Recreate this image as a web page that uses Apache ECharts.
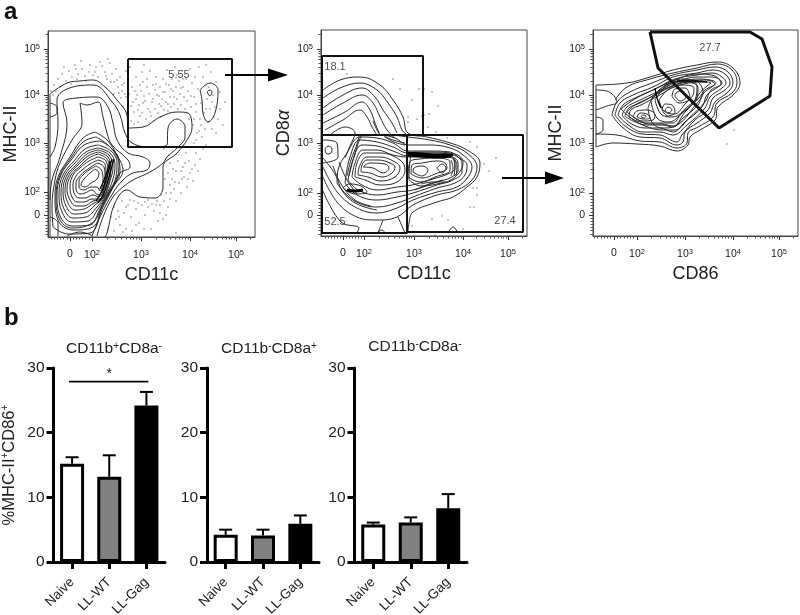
<!DOCTYPE html>
<html>
<head>
<meta charset="utf-8">
<style>html,body{margin:0;padding:0;background:#fff}#chart{width:800px;height:615px}</style>
<script src="https://cdn.jsdelivr.net/npm/echarts@6/dist/echarts.min.js"></script>
</head>
<body>
<div id="chart"></div>
<script>
// flow panels are in display channels (biexponential axis), 1 channel is about 1 px
var tickLabels = ['0', '10{s|2}', '10{s|3}', '10{s|4}', '10{s|5}']
var xTicks1 = [22, 44, 93, 142, 188]
var yTicks1 = [22, 45, 94, 142, 188]
var xTicks2 = [22, 43, 93, 142, 187]
var yTicks2 = [21, 43, 93, 141, 187]
var xTicks3 = [21, 44, 92, 140, 186]
var yTicks3 = [21, 43, 93, 141, 187]

var gate1 = [[80, 178], [184, 178], [184, 90], [80, 90], [80, 178]]
var gates2 = [
  [[1, 180], [102, 180], [102, 101], [1, 101], [1, 180]],
  [[1, 101], [86, 101], [86, 3], [1, 3], [1, 101]],
  [[86, 101], [202, 101], [202, 4], [86, 4], [86, 101]]
]
var gate3 = [[57, 204], [65, 168], [126, 108], [177, 140], [179, 169], [169, 197], [157, 204], [57, 204]]

var labels1 = [[131, 162, '5.55']]
var labels2 = [[14, 169, '18.1'], [14, 14, '52.5'], [184, 15, '27.4']]
var labels3 = [[117, 188, '27.7']]

var openLines1 = [
  [[2, 143], [19, 154], [32, 156], [45, 157], [57, 150], [69, 137], [79, 122], [80, 109], [95, 110], [112, 120], [129, 125], [140, 124], [144, 109], [139, 97], [129, 84], [115, 70], [115, 50], [107, 39], [92, 40], [79, 47], [67, 34], [59, 4], [57, 0]],
  [[2, 80], [7, 90], [10, 114], [9, 137], [19, 148], [45, 152], [65, 134], [72, 122], [77, 104], [84, 94], [102, 90], [119, 92], [120, 109], [129, 118], [137, 110], [137, 100], [129, 89], [119, 80], [115, 74], [102, 65], [85, 57], [75, 50], [65, 40], [55, 20], [49, 1]],
  [[2, 37], [4, 57], [12, 80], [19, 114], [15, 134], [29, 139], [49, 140], [60, 130], [65, 114], [69, 97], [80, 84], [95, 80], [102, 74], [99, 67], [85, 64], [75, 57], [65, 44], [52, 20], [44, 1]],
  [[2, 134], [9, 130], [9, 124], [2, 120]],
  [[2, 20], [10, 14], [10, 1]],
  [[19, 1], [32, 5], [45, 1]],
  [[2, 143], [2, 0]]
]
var rings1 = [
  [[5, 10], [4, 30], [7, 57], [12, 74], [24, 97], [34, 114], [32, 134], [39, 132], [50, 135], [55, 120], [59, 104], [64, 92], [80, 77], [82, 70], [72, 64], [65, 50], [55, 30], [42, 4], [20, 3]],
  [[47, 105], [59, 97], [70, 80], [75, 67], [65, 50], [55, 34], [45, 10], [25, 7], [10, 17], [7, 40], [10, 60], [22, 80], [35, 99]],
  [[48, 100], [60, 92], [70, 78], [72, 66], [64, 48], [54, 30], [44, 14], [24, 9], [11, 19], [8, 40], [12, 62], [23, 79], [35, 95]],
  [[52, 96], [62, 90], [71, 76], [70, 62], [62, 46], [52, 28], [42, 12], [24, 11], [12, 21], [9, 42], [13, 62], [24, 78], [36, 92]],
  [[50, 92], [63, 86], [69, 74], [68, 60], [60, 44], [50, 28], [40, 16], [24, 15], [14, 25], [11, 44], [15, 62], [26, 76], [37, 88]],
  [[50, 89], [62, 84], [67, 72], [65, 58], [58, 42], [49, 30], [38, 20], [25, 19], [16, 28], [13, 45], [17, 62], [27, 74], [38, 85]],
  [[50, 87], [61, 82], [65, 70], [62, 56], [56, 40], [47, 32], [37, 24], [26, 23], [18, 31], [15, 46], [19, 62], [28, 72], [39, 83]],
  [[50, 85], [60, 80], [63, 68], [60, 52], [54, 38], [46, 34], [36, 28], [27, 27], [20, 34], [17, 47], [21, 62], [29, 71], [40, 81]],
  [[50, 83], [59, 78], [62, 66], [58, 50], [53, 38], [45, 36], [36, 31], [28, 31], [22, 37], [19, 48], [23, 62], [31, 70], [41, 79]],
  [[50, 80], [58, 76], [60, 64], [56, 48], [52, 38], [44, 38], [36, 35], [29, 35], [24, 40], [22, 50], [25, 62], [32, 69], [41, 76]],
  [[50, 77], [57, 73], [58, 62], [55, 46], [51, 40], [45, 42], [37, 39], [31, 39], [26, 44], [25, 52], [28, 61], [34, 67], [42, 73]],
  [[49, 74], [56, 70], [57, 60], [54, 46], [50, 42], [44, 47], [37, 44], [32, 43], [28, 48], [28, 54], [31, 60], [36, 65], [43, 70]],
  [[48, 71], [54, 66], [55, 56], [52, 46], [49, 50], [43, 50], [36, 47], [31, 50], [31, 56], [35, 62], [41, 67]],
  [[47, 68], [51, 64], [49, 58], [43, 54], [37, 50], [33, 52], [36, 58], [42, 64]],
  [[152, 147], [162, 154], [170, 147], [167, 124], [160, 115], [155, 124], [154, 137]],
  [[159, 145], [162, 147], [164, 145], [162, 141]]
]
// spots where the contours run together and print almost solid
var bands1 = [
  [[66, 78], [62, 64], [56, 44], [50, 34]],
  [[64, 78], [60, 64], [54, 46], [48, 36]],
  [[62, 76], [58, 62], [52, 48]]
]
var dots1 = [
  [3, 146], [6, 152], [10, 158], [14, 163], [18, 156], [21, 166], [24, 160], [27, 172], [30, 163], [34, 168], [37, 161], [41, 165], [45, 162], [48, 170], [50, 160], [54, 171], [57, 165], [59, 158], [62, 174], [64, 163], [66, 155], [68, 168], [70, 150], [72, 160], [74, 146], [76, 154], [78, 166], [78, 140], [73, 139], [60, 178], [42, 172], [33, 176], [12, 150], [8, 146], [66, 143], [75, 131],
  [82, 170], [84, 150], [85, 135], [86, 125], [88, 160], [89, 142], [90, 115], [91, 132], [93, 146], [94, 124], [95, 155], [96, 172], [97, 136], [98, 118], [99, 150], [100, 128], [101, 143], [102, 166], [103, 121], [104, 135], [105, 152], [106, 116], [107, 128], [108, 160], [109, 142], [110, 124], [111, 133], [112, 150], [113, 120], [114, 138], [115, 158], [116, 127], [117, 145], [118, 135], [119, 167], [120, 126], [121, 152], [122, 140], [123, 130], [124, 158], [125, 146], [126, 133], [127, 170], [128, 150], [129, 138], [130, 128], [131, 156], [132, 143], [133, 132], [134, 166], [135, 150], [136, 140], [137, 128], [138, 158], [139, 136], [140, 146], [141, 118], [142, 168], [143, 130], [144, 154], [145, 112], [146, 140], [147, 160], [148, 125], [149, 104], [150, 148], [151, 170], [152, 118], [153, 134], [154, 100], [155, 160], [156, 124], [157, 108], [158, 172], [159, 138], [160, 115], [161, 150], [162, 128], [163, 165], [164, 108], [165, 142], [166, 120], [167, 130], [168, 155], [170, 118], [172, 128], [175, 112], [177, 135], [168, 104],
  [116, 88], [120, 64], [122, 74], [124, 58], [126, 48], [128, 66], [130, 76], [131, 54], [133, 44], [135, 70], [136, 60], [138, 84], [139, 50], [141, 76], [142, 64], [143, 90], [145, 56], [147, 72], [148, 84], [150, 66], [152, 78], [118, 44], [122, 52], [112, 32], [116, 36], [120, 30], [128, 36], [146, 94], [155, 88], [158, 92],
  [66, 30], [68, 18], [70, 26], [72, 12], [74, 36], [76, 24], [78, 8], [80, 32], [83, 20], [86, 36], [88, 28], [91, 14], [94, 32], [97, 22], [100, 30], [103, 8], [106, 26], [108, 32], [112, 24], [115, 18], [60, 8], [63, 20], [84, 6], [66, 6], [118, 22], [122, 38], [128, 4], [90, 34], [100, 37],
  [83, 131], [87, 146], [92, 121], [96, 141], [83, 116], [90, 127], [95, 134], [102, 125], [88, 138], [107, 147], [113, 131], [99, 158], [92, 152], [86, 113], [81, 143], [105, 138], [111, 141], [118, 153], [123, 148], [129, 162], [135, 158], [126, 140], [133, 149], [120, 133], [115, 145], [94, 165], [108, 153], [143, 141], [148, 133], [146, 118], [151, 106], [172, 145], [164, 135], [158, 128], [153, 112], [148, 97],
  [5, 142], [16, 170], [23, 153], [29, 158], [38, 156], [47, 165], [52, 175], [58, 161], [69, 157], [74, 152], [80, 126], [77, 143], [28, 168], [63, 155], [71, 144],
  [121, 82], [125, 68], [133, 66], [137, 74], [127, 55], [140, 58], [144, 68], [134, 58], [123, 44], [117, 58], [113, 42], [109, 36], [104, 33], [97, 35], [82, 37], [78, 30], [71, 20], [75, 5], [88, 12], [96, 8], [110, 16]
]

var openLines2 = [
  [[2, 146], [19, 156], [39, 159], [59, 151], [72, 136], [82, 119], [87, 103], [106, 99], [126, 94], [146, 86], [159, 73], [156, 59], [146, 49], [132, 39], [116, 34], [92, 24], [88, 13], [87, 3]],
  [[2, 138], [19, 148], [39, 153], [56, 146], [67, 133], [76, 119], [81, 106], [86, 101]],
  [[2, 128], [22, 141], [41, 148], [54, 139], [62, 126], [71, 113], [76, 103]],
  [[2, 121], [22, 133], [41, 141], [52, 133], [59, 119], [66, 106], [74, 98]],
  [[2, 113], [24, 124], [41, 134], [49, 126], [54, 113], [59, 101]],
  [[4, 106], [22, 116], [39, 126], [46, 119], [51, 109], [56, 101]],
  [[9, 101], [24, 109], [34, 103], [29, 90], [24, 78]],
  [[2, 59], [16, 34], [36, 19], [56, 16], [76, 19], [92, 31], [116, 41], [136, 46], [151, 56], [156, 69], [146, 83], [129, 91], [109, 96], [87, 99], [72, 101]],
  [[2, 69], [17, 43], [36, 28], [56, 23], [76, 28], [92, 36], [116, 44], [136, 49], [147, 59], [151, 69], [142, 81], [129, 88], [109, 91], [87, 91], [74, 98], [59, 101], [39, 101]],
  [[2, 96], [16, 93], [17, 79], [2, 73]],
  [[127, 3], [132, 9], [137, 3]],
  [[56, 3], [61, 6], [64, 3]],
  [[62, 16], [57, 3]],
  [[77, 19], [84, 3]],
  [[2, 45], [20, 14], [38, 8], [36, 3]],
  [[2, 78], [14, 62], [22, 44], [36, 32], [56, 26]],
  [[12, 70], [20, 52], [34, 36], [50, 30]],
  [[18, 74], [26, 56], [36, 42]],
  [[26, 60], [30, 76], [36, 92], [38, 100]],
  [[28, 60], [32, 76], [37, 92], [40, 100]],
  [[133, 78], [136, 70], [135, 60]],
  [[132, 78], [134, 70], [133, 60]],
  [[130, 76], [132, 68], [130, 60]],
  [[52, 115], [56, 106], [60, 100]],
  [[63, 100], [72, 96], [84, 93]],
  [[64, 99], [73, 94], [84, 91]],
  [[100, 52], [112, 54], [126, 54]],
  [[94, 46], [108, 52], [122, 56]]
]
var rings2 = [
  [[16, 53], [32, 36], [56, 29], [76, 33], [92, 39], [116, 48], [134, 53], [144, 61], [146, 71], [137, 79], [129, 84], [109, 85], [87, 85], [72, 93], [56, 98], [39, 99], [26, 83], [17, 66]],
  [[24, 53], [36, 41], [56, 36], [76, 39], [92, 43], [116, 51], [132, 56], [141, 64], [141, 73], [132, 81], [109, 83], [87, 83], [72, 89], [56, 94], [39, 96], [29, 79]],
  [[27, 56], [37, 46], [56, 41], [76, 44], [92, 46], [116, 54], [131, 59], [137, 66], [137, 73], [131, 79], [109, 81], [87, 80], [72, 85], [56, 90], [41, 91], [32, 76]],
  [[31, 59], [41, 51], [56, 46], [76, 49], [91, 51], [112, 57], [129, 63], [134, 68], [134, 74], [127, 79], [109, 79], [87, 79], [72, 81], [56, 86], [42, 86], [34, 73]],
  [[34, 59], [44, 56], [59, 51], [76, 54], [84, 66], [79, 76], [59, 83], [44, 83], [36, 73]],
  [[37, 61], [47, 59], [59, 55], [74, 59], [79, 68], [74, 74], [59, 79], [46, 79], [39, 71]],
  [[40, 64], [49, 63], [61, 59], [71, 63], [74, 69], [69, 73], [57, 76], [46, 76], [41, 71]],
  [[42, 69], [52, 68], [62, 63], [68, 68], [64, 72], [49, 73]],
  [[87, 59], [99, 54], [114, 59], [129, 66], [129, 74], [116, 78], [99, 77], [89, 74]],
  [[90, 62], [101, 58], [114, 62], [126, 68], [124, 73], [116, 75], [101, 73], [91, 71]],
  [[92, 64], [101, 60], [107, 66], [101, 70], [93, 68]],
  [[116, 68], [121, 63], [125, 68], [121, 72]],
  [[4, 87], [7, 90], [11, 87], [10, 83], [6, 82]],
  [[22, 48], [34, 42], [46, 44], [40, 50], [28, 52]],
  [[88, 56], [100, 50], [116, 52], [130, 56], [140, 66], [142, 74], [134, 82], [110, 84], [92, 84]]
]
var bands2 = [
  [[86, 81], [100, 80], [118, 79], [130, 80]],
  [[86, 83], [100, 82], [118, 81], [132, 81]],
  [[26, 46], [34, 45], [42, 46]]
]
var dots2 = [[26, 162], [72, 157], [79, 147], [98, 147], [103, 147], [111, 144], [91, 136], [117, 130], [108, 122], [101, 120], [103, 121], [87, 119], [96, 117], [87, 114], [107, 109], [115, 104], [126, 98], [149, 94], [156, 89], [175, 78], [163, 72], [168, 65], [152, 48], [156, 41], [149, 29], [153, 29], [156, 48], [111, 17], [121, 20], [127, 16], [91, 10], [114, 1], [142, 7]]

var openLines3 = [
  [[3, 151], [34, 153], [57, 159], [80, 166], [104, 171], [124, 174], [140, 168], [147, 153], [140, 141], [125, 129], [122, 116], [107, 106], [97, 99], [95, 91], [84, 85], [67, 90], [44, 92], [20, 93], [3, 89], [3, 151]],
  [[3, 146], [14, 145], [24, 134], [14, 130], [3, 126]],
  [[3, 119], [10, 116], [10, 106], [3, 102]],
  [[3, 102], [24, 101], [47, 95], [67, 94], [84, 88], [94, 93], [95, 103], [105, 109], [120, 119], [124, 133], [139, 143], [144, 153], [139, 166], [124, 172], [104, 168], [80, 163], [57, 157], [34, 149], [22, 136]]
]
var rings3 = [
  [[19, 121], [29, 109], [47, 99], [67, 98], [84, 91], [90, 94], [92, 104], [104, 113], [117, 123], [122, 134], [135, 144], [140, 153], [135, 164], [122, 169], [104, 166], [80, 161], [59, 153], [37, 144], [24, 134]],
  [[22, 121], [32, 110], [49, 102], [67, 101], [84, 94], [89, 101], [102, 116], [115, 126], [120, 138], [132, 146], [137, 153], [132, 162], [120, 166], [104, 163], [80, 159], [60, 149], [40, 141], [27, 133]],
  [[25, 121], [34, 112], [50, 104], [67, 104], [80, 101], [94, 111], [112, 128], [117, 139], [129, 148], [133, 153], [129, 159], [119, 163], [104, 161], [82, 157], [62, 147], [42, 138], [30, 131]],
  [[29, 121], [37, 113], [52, 108], [67, 108], [80, 104], [92, 114], [109, 129], [114, 141], [125, 149], [129, 153], [124, 158], [115, 159], [104, 159], [84, 154], [64, 144], [45, 135], [34, 129]],
  [[32, 120], [40, 115], [54, 111], [69, 111], [80, 109], [90, 118], [105, 131], [110, 142], [120, 150], [123, 153], [117, 156], [104, 157], [84, 152], [64, 142], [47, 133], [36, 128]],
  [[36, 119], [44, 115], [55, 113], [68, 113], [80, 113], [88, 122], [102, 134], [106, 142], [114, 150], [118, 153], [108, 154], [84, 150], [65, 140], [48, 131], [38, 126]],
  [[28, 127], [38, 118], [52, 110], [70, 106], [82, 106], [96, 118], [112, 134], [118, 146], [128, 152], [122, 160], [104, 162], [82, 156], [60, 146], [40, 136]],
  [[34, 124], [44, 117], [56, 112], [68, 112], [80, 110], [92, 124], [106, 138], [112, 146], [122, 152], [112, 156], [94, 154], [74, 148], [56, 138], [42, 131]],
  [[55, 128], [60, 112], [72, 108], [86, 112], [100, 128], [110, 144], [100, 156], [80, 154], [62, 142]],
  [[58, 135], [64, 118], [76, 114], [90, 124], [102, 136], [104, 150], [90, 157], [72, 150]],
  [[40, 119], [49, 115], [60, 116], [62, 121], [54, 126], [44, 125]],
  [[44, 119], [50, 117], [57, 118], [54, 122], [47, 123]],
  [[48, 119], [51, 118], [53, 120], [50, 121]],
  [[69, 126], [75, 120], [82, 124], [79, 131], [72, 132]],
  [[72, 126], [75, 123], [79, 126], [75, 129]],
  [[82, 140], [87, 135], [93, 139], [89, 145], [84, 144]],
  [[79, 140], [86, 133], [97, 138], [92, 148], [82, 147]],
  [[62, 136], [69, 121], [80, 119], [94, 129], [104, 139], [105, 149], [90, 154], [75, 151]],
  [[66, 136], [71, 125], [81, 122], [93, 133], [100, 141], [101, 148], [90, 151], [77, 148]]
]
var bands3 = [
  [[84, 155], [100, 155], [114, 154]],
  [[62, 148], [64, 138], [68, 128]]
]
var dots3 = [[141, 106], [134, 92]]

var categories = ['Naive', 'LL-WT', 'LL-Gag']
var barColors = ['#fff', '#808080', '#000']
var means1 = [15.2, 13.2, 24.2]
var tops1 = [16.2, 16.5, 26.3]
var means2 = [4.2, 4.1, 5.9]
var tops2 = [5.0, 5.0, 7.2]
var means3 = [5.8, 6.1, 8.3]
var tops3 = [6.1, 6.9, 10.5]
var sigLevel = 27.9

var fontName = '"Liberation Sans", Arial, sans-serif'
var darkLine = '#2a2a2a'
var series = []
var grid = []
var xAxis = []
var yAxis = []

function minorTicks(major) {
  // log spaced ticks between the decades of one flow axis
  var out = []
  for (var i = 1; i < major.length; i++) {
    var step = major[i] - major[i - 1]
    if (i === 1) {
      for (var k = 1; k < 7; k++) {
        out.push(major[0] + step * k / 7)
        if (major[0] - step * k / 7 > 0) out.push(major[0] - step * k / 7)
      }
      continue
    }
    for (var n = 2; n < 10; n++) {
      out.push(major[i - 1] + step * Math.log10(n))
    }
  }
  for (var m = 2; m < 5; m++) {
    out.push(major[major.length - 1] + 48 * Math.log10(m))
  }
  return out
}

function flowAxes(left, top, width, height, xt, yt, xName, yName, yGap, yNameRich) {
  var g = grid.length
  var labelStyle = {
    fontFamily: fontName,
    fontSize: 10.5,
    color: '#222',
    rich: { s: { fontSize: 7.5, verticalAlign: 'top', padding: [0, 0, 4, 0], color: '#222' } }
  }
  grid.push({ left: left, top: top, width: width, height: height, outerBoundsMode: 'none', show: true, borderColor: '#444', borderWidth: 1, backgroundColor: 'transparent' })
  var main = function(ticks, name, gap, isY) {
    return {
      type: 'value',
      gridIndex: g,
      position: isY ? 'left' : 'bottom',
      min: 0,
      max: isY ? height : width,
      name: name,
      nameLocation: 'middle',
      nameGap: gap,
      nameTextStyle: { fontFamily: fontName, fontSize: 18, color: '#222', rich: yNameRich },
      splitLine: { show: false },
      axisLine: { show: true, onZero: false, lineStyle: { color: '#444', width: 1 } },
      axisTick: { show: true, length: 4, lineStyle: { color: '#333', width: 1 }, customValues: ticks },
      axisLabel: {
        show: true,
        margin: isY ? 8 : 12,
        customValues: ticks,
        hideOverlap: false,
        formatter: function(v) { return tickLabels[ticks.indexOf(v)] },
        fontFamily: labelStyle.fontFamily,
        fontSize: labelStyle.fontSize,
        color: labelStyle.color,
        rich: labelStyle.rich
      }
    }
  }
  var minor = function(ticks, isY) {
    return {
      type: 'value',
      gridIndex: g,
      position: isY ? 'left' : 'bottom',
      min: 0,
      max: isY ? height : width,
      splitLine: { show: false },
      axisLine: { show: false, onZero: false },
      axisTick: { show: true, length: 2.5, lineStyle: { color: '#555', width: 1 }, customValues: minorTicks(ticks) },
      axisLabel: { show: false }
    }
  }
  var xi = xAxis.length
  xAxis.push(main(xt, xName, 29, false), minor(xt, false))
  var yi = yAxis.length
  yAxis.push(main(yt, yName, yGap, true), minor(yt, true))
  return { x: xi, y: yi }
}

function addLines(ax, list, closed, width, color) {
  list.forEach(function(pts) {
    series.push({
      type: 'line',
      xAxisIndex: ax.x,
      yAxisIndex: ax.y,
      data: closed ? pts.concat([pts[0]]) : pts,
      smooth: 0.4,
      showSymbol: false,
      silent: true,
      lineStyle: { color: color || darkLine, width: width || 1 }
    })
  })
}

function addGates(ax, list, width) {
  list.forEach(function(pts) {
    series.push({
      type: 'line',
      xAxisIndex: ax.x,
      yAxisIndex: ax.y,
      data: pts,
      showSymbol: false,
      silent: true,
      z: 5,
      lineStyle: { color: '#111', width: width }
    })
  })
}

function addDots(ax, pts) {
  series.push({
    type: 'scatter',
    xAxisIndex: ax.x,
    yAxisIndex: ax.y,
    data: pts,
    symbolSize: 1.3,
    silent: true,
    itemStyle: { color: '#333' }
  })
}

function addLabels(ax, list) {
  series.push({
    type: 'scatter',
    xAxisIndex: ax.x,
    yAxisIndex: ax.y,
    data: list,
    symbolSize: 0,
    silent: true,
    z: 6,
    label: {
      show: true,
      position: 'inside',
      fontFamily: fontName,
      fontSize: 11,
      color: '#222',
      formatter: function(p) { return p.value[2] }
    }
  })
}

function addBars(left, width, means, tops, yName) {
  var g = grid.length
  grid.push({ left: left, top: 368, width: width, height: 194, outerBoundsMode: 'none' })
  var xi = xAxis.length
  xAxis.push({
    type: 'category',
    gridIndex: g,
    data: categories,
    axisLine: { show: true, lineStyle: { color: '#000', width: 3 } },
    axisTick: { show: true, alignWithLabel: true, length: 7, lineStyle: { color: '#000', width: 3 } },
    axisLabel: { interval: 0, rotate: 45, margin: 18, fontFamily: fontName, fontSize: 13.5, color: '#222' }
  })
  var yi = yAxis.length
  yAxis.push({
    type: 'value',
    gridIndex: g,
    min: 0,
    max: 30,
    interval: 10,
    name: yName,
    nameLocation: 'middle',
    nameGap: 36,
    nameTextStyle: {
      fontFamily: fontName,
      fontSize: 16.5,
      color: '#222',
      rich: { s: { fontSize: 10, verticalAlign: 'top', padding: [0, 0, 6, 0], color: '#222' } }
    },
    splitLine: { show: false },
    axisLine: { show: true, lineStyle: { color: '#000', width: 3 } },
    axisTick: { show: true, length: 7, lineStyle: { color: '#000', width: 3 } },
    axisLabel: { margin: 9, fontFamily: fontName, fontSize: 15.5, color: '#222' }
  })
  series.push({
    type: 'custom',
    xAxisIndex: xi,
    yAxisIndex: yi,
    silent: true,
    z: 1,
    data: tops.map(function(t, i) { return [i, means[i], t] }),
    renderItem: function(params, api) {
      var base = api.coord([api.value(0), api.value(1)])
      var top = api.coord([api.value(0), api.value(2)])
      var style = { stroke: '#000', lineWidth: 2, fill: null }
      return {
        type: 'group',
        children: [
          { type: 'line', shape: { x1: base[0], y1: base[1], x2: top[0], y2: top[1] }, style: style },
          { type: 'line', shape: { x1: top[0] - 6.5, y1: top[1], x2: top[0] + 6.5, y2: top[1] }, style: style }
        ]
      }
    }
  })
  series.push({
    type: 'bar',
    xAxisIndex: xi,
    yAxisIndex: yi,
    barWidth: 24,
    silent: true,
    z: 2,
    data: means.map(function(v, i) {
      return { value: v, itemStyle: { color: barColors[i], borderColor: '#000', borderWidth: 3 } }
    })
  })
  return { x: xi, y: yi }
}

var ax1 = flowAxes(48, 31, 207, 206, xTicks1, yTicks1, 'CD11c', 'MHC-II', 28)
addLines(ax1, openLines1, false)
addLines(ax1, rings1, true)
addLines(ax1, bands1, false, 1.2, '#000')
addDots(ax1, dots1)
addGates(ax1, [gate1], 2)
addLabels(ax1, labels1)

var ax2 = flowAxes(321, 30, 206, 206, xTicks2, yTicks2, 'CD11c', 'CD8{a|α}', 24, {
  a: { fontFamily: fontName, fontStyle: 'italic', fontSize: 18, color: '#222' }
})
addLines(ax2, openLines2, false)
addLines(ax2, rings2, true)
addLines(ax2, bands2, false, 3, '#000')
addDots(ax2, dots2)
addGates(ax2, gates2, 2)
addLabels(ax2, labels2)

var ax3 = flowAxes(593, 30, 205, 206, xTicks3, yTicks3, 'CD86', 'MHC-II', 26)
addLines(ax3, openLines3, false)
addLines(ax3, rings3, true)
addLines(ax3, bands3, false, 1.4, '#000')
addDots(ax3, dots3)
addGates(ax3, [gate3], 3)
addLabels(ax3, labels3)

var bar1 = addBars(53.5, 111.5, means1, tops1, '%MHC-II{s|+}CD86{s|+}')
addBars(207, 112, means2, tops2, '')
addBars(354.5, 112.5, means3, tops3, '')

// significance bracket over the first bar panel
series.push({
  type: 'custom',
  xAxisIndex: bar1.x,
  yAxisIndex: bar1.y,
  silent: true,
  data: [[0, 2, sigLevel]],
  renderItem: function(params, api) {
    var a = api.coord([api.value(0), api.value(2)])
    var b = api.coord([api.value(1), api.value(2)])
    return {
      type: 'group',
      children: [
        { type: 'line', shape: { x1: a[0] - 3, y1: a[1], x2: b[0] + 2, y2: b[1] }, style: { stroke: '#000', lineWidth: 1.6 } },
        { type: 'text', style: { text: '*', x: (a[0] + b[0]) / 2, y: a[1] - 14, align: 'center', fontFamily: fontName, fontSize: 14, fill: '#111' } }
      ]
    }
  }
})

var titleRich = {
  s: { fontSize: 10, verticalAlign: 'top', padding: [0, 0, 5, 0], color: '#222' }
}
var barTitles = [
  { x: 114, y: 349, text: 'CD11b{s|+}CD8a{s|-}' },
  { x: 269, y: 349, text: 'CD11b{s|-}CD8a{s|+}' },
  { x: 415, y: 347, text: 'CD11b{s|-}CD8a{s|-}' }
]

function arrow(x1, x2, headStart, y) {
  return [
    { type: 'line', shape: { x1: x1, y1: y, x2: headStart, y2: y }, style: { stroke: '#000', lineWidth: 2 } },
    { type: 'polygon', shape: { points: [[headStart, y - 6.5], [x2, y], [headStart, y + 6.5]] }, style: { fill: '#000' } }
  ]
}

var graphics = barTitles.map(function(t) {
  return {
    type: 'text',
    x: t.x,
    y: t.y,
    style: {
      text: t.text,
      align: 'center',
      verticalAlign: 'middle',
      fontFamily: fontName,
      fontSize: 15.5,
      fill: '#222',
      rich: titleRich
    }
  }
})
graphics.push(
  { type: 'text', x: 4, y: 0, style: { text: 'a', fontFamily: fontName, fontWeight: 'bold', fontSize: 24, fill: '#111' } },
  { type: 'text', x: 4, y: 306, style: { text: 'b', fontFamily: fontName, fontWeight: 'bold', fontSize: 24, fill: '#111' } }
)
graphics = graphics.concat(arrow(225, 288, 268, 75), arrow(502, 564, 545, 178))

var chart = echarts.init(document.getElementById('chart'), null, { renderer: 'canvas' })
chart.setOption({
  animation: false,
  backgroundColor: '#fff',
  grid: grid,
  xAxis: xAxis,
  yAxis: yAxis,
  series: series,
  graphic: graphics
})
</script>
</body>
</html>
